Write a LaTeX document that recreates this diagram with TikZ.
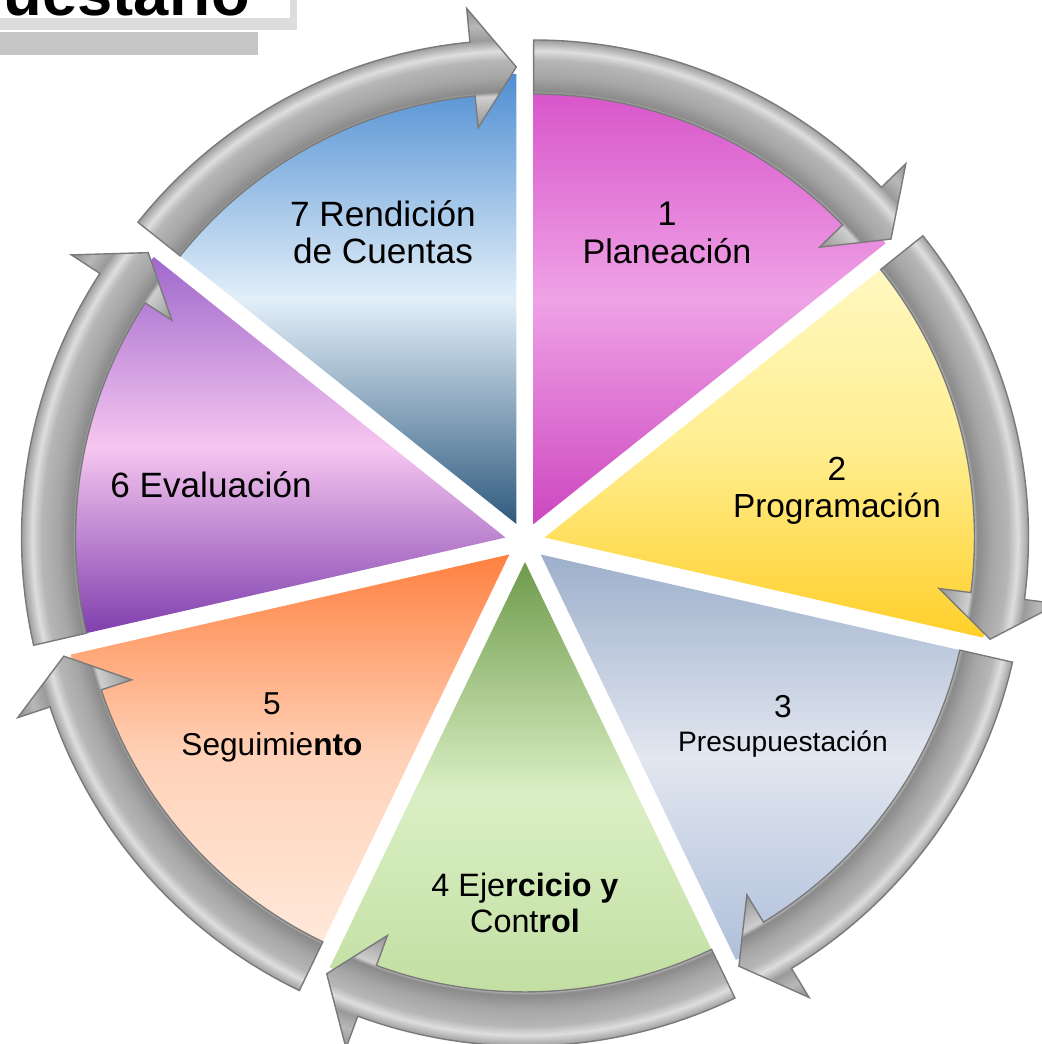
\documentclass[tikz,border=0pt]{standalone}
\usepackage{fontspec}
\setmainfont{Liberation Sans}
\usetikzlibrary{calc}

\definecolor{magA}{HTML}{D64FC8}
\definecolor{magB}{HTML}{EFA2E6}
\definecolor{magC}{HTML}{CC46BF}
\definecolor{yelA}{HTML}{FFF9C4}
\definecolor{yelB}{HTML}{FFEE90}
\definecolor{yelC}{HTML}{FFCF2A}
\definecolor{slaA}{HTML}{9DAFCB}
\definecolor{slaB}{HTML}{E2E7F0}
\definecolor{slaC}{HTML}{AFBFDB}
\definecolor{grnA}{HTML}{6E9B4B}
\definecolor{grnB}{HTML}{DAEFC4}
\definecolor{grnC}{HTML}{BEDC9C}
\definecolor{orgA}{HTML}{FF8040}
\definecolor{orgB}{HTML}{FFD2B8}
\definecolor{orgC}{HTML}{FFEBDD}
\definecolor{purA}{HTML}{A068CC}
\definecolor{purB}{HTML}{F6C6F0}
\definecolor{purC}{HTML}{7C3CAC}
\definecolor{bluA}{HTML}{4F8ED2}
\definecolor{bluB}{HTML}{E2EFF9}
\definecolor{bluC}{HTML}{2F5A7E}
\definecolor{metA}{HTML}{8A8A8A}
\definecolor{metB}{HTML}{8E8E8E}
\definecolor{metC}{HTML}{CFCFCF}
\definecolor{metD}{HTML}{A6A6A6}
\definecolor{metE}{HTML}{B6B6B6}
\definecolor{metF}{HTML}{DEDEDE}
\definecolor{metG}{HTML}{9A9A9A}
\definecolor{metH}{HTML}{B8B8B8}
\definecolor{metI}{HTML}{7A7A7A}
\definecolor{titleshadow}{HTML}{DDDDDD}
\definecolor{titlebar}{HTML}{C6C6C6}

\pgfdeclareradialshading{metalring}{\pgfpointorigin}{%
  color(0bp)=(metA); color(19bp)=(metB); color(20.6bp)=(metC);
  color(20.8bp)=(metA); color(21.5bp)=(metD); color(22.3bp)=(metE);
  color(22.75bp)=(metF); color(23.3bp)=(metG); color(24bp)=(metH);
  color(25bp)=(metA); color(50bp)=(metA)}

\begin{document}
\begin{tikzpicture}[x=0.01cm,y=0.01cm,
  ringedge/.style={draw=metI, line width=0.4pt},
  lbl/.style={align=center, inner sep=0pt, anchor=base, text=black}]
\useasboundingbox (0,0) rectangle (1042,1044);
\xdef\ang{360/7}
\xdef\off{20}
\xdef\rw{450}
\xdef\rin{430}
\xdef\rout{484}
\xdef\rmid{457}
\xdef\hin{398}
\xdef\hout{518}
\xdef\hang{5.5}
\coordinate (C) at (525,502);

% title strip, cut by the page top
\fill[titleshadow] (0,1014) rectangle (297,1044);
\fill[white] (0,1026) rectangle (290,1044);
\fill[titlebar] (0,989) rectangle (258,1012);
\begin{scope}
\clip (0,1026) rectangle (290,1044);
\node[anchor=base west, inner sep=0pt, font=\fontsize{18}{18}\selectfont\bfseries] (title) at (3,1029) {uestario};
\end{scope}

% the seven segments with their ring arrows
\foreach \i/\ca/\cb/\cc in {1/magA/magB/magC,2/yelA/yelB/yelC,3/slaA/slaB/slaC,4/grnA/grnB/grnC,5/orgA/orgB/orgC,6/purA/purB/purC,7/bluA/bluB/bluC}{
  \pgfmathsetmacro\as{90-(\i-1)*\ang}
  \pgfmathsetmacro\ae{\as-\ang}
  \pgfmathsetmacro\am{\as-\ang/2}
  \begin{scope}[shift={($(C)+(\am:\off)$)}]
    \shade[top color=\ca, bottom color=\cc, middle color=\cb]
      (0,0) -- (\as:\rw) arc[start angle=\as, end angle=\ae, radius=\rw] -- cycle;
    \path[ringedge, path picture={\shade[shading=metalring] (0,0) circle[radius=520];}]
      (\as:\rin) arc[start angle=\as, end angle=\ae+\hang, radius=\rin]
      -- (\ae+\hang:\hin) -- (\ae:\rmid) -- (\ae+\hang:\hout) -- (\ae+\hang:\rout)
      arc[start angle=\ae+\hang, end angle=\as, radius=\rout] -- cycle;
  \end{scope}
}

% labels (base = last line)
\node[lbl, font=\fontsize{10}{10.4}\selectfont] (rend) at (383,781) {7 Rendición\\de Cuentas};
\node[lbl, font=\fontsize{9.7}{10.7}\selectfont] (plan) at (667,781) {1\\Planeación};
\node[lbl, font=\fontsize{9.5}{10.5}\selectfont] (prog) at (837,527) {2\\Programación};
\node[lbl, font=\fontsize{9}{9.7}\selectfont] (pres) at (783,292) {3\\{\fontsize{8}{9.7}\selectfont Presupuestación}};
\node[lbl, font=\fontsize{9.2}{10}\selectfont] (ejer) at (525,112) {4 Eje\textbf{rcicio y}\\Cont\textbf{rol}};
\node[lbl, font=\fontsize{9}{11.4}\selectfont] (segu) at (272,289) {5\\Seguimie\textbf{nto}};
\node[lbl, font=\fontsize{10}{11}\selectfont] (eval) at (211,547) {6 Evaluación};
\end{tikzpicture}
\end{document}
